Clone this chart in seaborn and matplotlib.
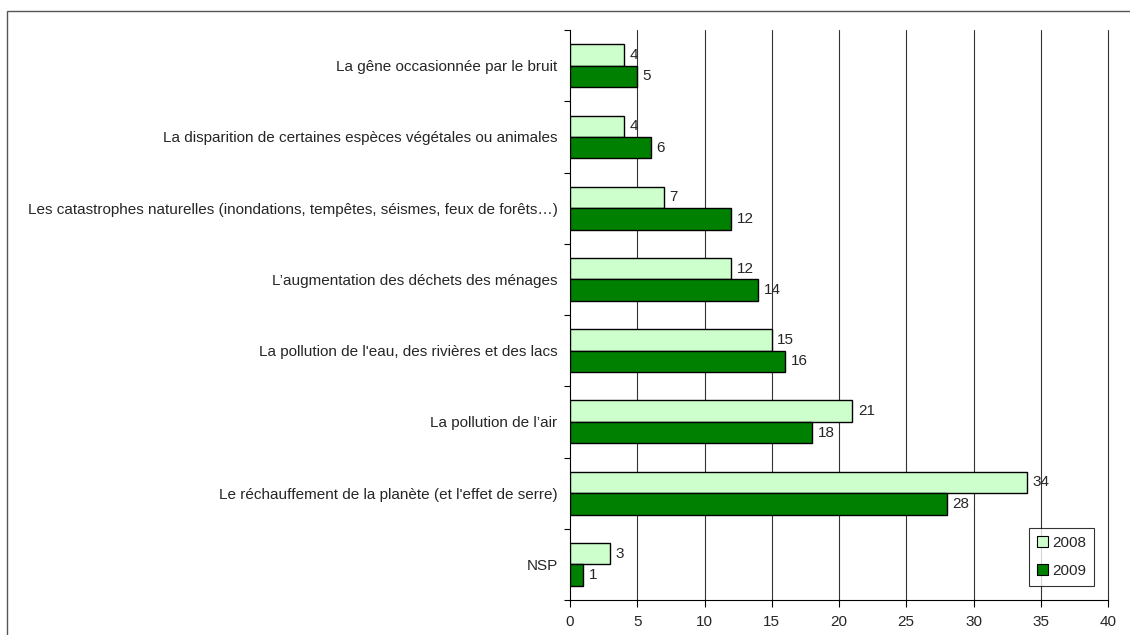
import matplotlib
matplotlib.use("Agg")
import matplotlib.pyplot as plt
import seaborn as sns
import pandas as pd
from matplotlib.patches import Rectangle

categories = [
    "La gêne occasionnée par le bruit",
    "La disparition de certaines espèces végétales ou animales",
    "Les catastrophes naturelles (inondations, tempêtes, séismes, feux de forêts…)",
    "L’augmentation des déchets des ménages",
    "La pollution de l'eau, des rivières et des lacs",
    "La pollution de l’air",
    "Le réchauffement de la planète (et l'effet de serre)",
    "NSP",
]
values_2008 = [4, 4, 7, 12, 15, 21, 34, 3]
values_2009 = [5, 6, 12, 14, 16, 18, 28, 1]
series = ["2008", "2009"]
colors = ["#CCFFCC", "#008000"]
xticks = [0, 5, 10, 15, 20, 25, 30, 35, 40]

df = pd.DataFrame({
    "cat": categories * 2,
    "val": values_2008 + values_2009,
    "year": [series[0]] * len(categories) + [series[1]] * len(categories),
})

sns.set_theme(style="white")
plt.rcParams["font.family"] = ["Liberation Sans", "DejaVu Sans"]

fig = plt.figure(figsize=(11.3, 6.35), dpi=100)
ax = fig.add_axes([570 / 1130, 1 - 600 / 635, 538 / 1130, 570 / 635])

sns.barplot(data=df, y="cat", x="val", hue="year", orient="h",
            palette=colors, width=0.6, edgecolor="black", linewidth=1.0,
            ax=ax, legend=True, saturation=1, zorder=3)

ax.set_xlim(0, 40)
ax.set_ylim(len(categories) - 0.5, -0.5)
ax.set_xticks(xticks)
ax.set_xticklabels([str(t) for t in xticks], fontsize=11)
ax.set_xlabel("")
ax.set_ylabel("")
ax.set_yticks(range(len(categories)))
ax.set_yticklabels(categories, fontsize=11)
ax.tick_params(axis="y", length=0, pad=9)
ax.set_yticks([i + 0.5 for i in range(-1, len(categories))], minor=True)
ax.tick_params(axis="y", which="minor", length=4, width=0.8, color="black", left=True)
ax.tick_params(axis="x", length=5, width=0.8, color="black", bottom=True, pad=6)

for t in xticks[1:]:
    ax.axvline(t, color="#333333", linewidth=0.8, zorder=0, clip_on=False)

for s in ["top", "right"]:
    ax.spines[s].set_visible(False)
for s in ["left", "bottom"]:
    ax.spines[s].set_color("black")
    ax.spines[s].set_linewidth(0.8)

for cont in ax.containers:
    ax.bar_label(cont, padding=4, fontsize=11)

leg = ax.legend(loc="lower right", bbox_to_anchor=(0.988, 0.012), fontsize=11,
                frameon=True, fancybox=False, edgecolor="black",
                handlelength=0.7, handleheight=0.7, handletextpad=0.3,
                borderpad=0.5, labelspacing=0.9)
leg.get_frame().set_linewidth(0.8)
leg.set_zorder(5)
for h in leg.legend_handles:
    h.set_edgecolor("black")
    h.set_linewidth(0.8)

fig.patches.append(Rectangle((7 / 1130, -0.01), 1.2, 1 - 11 / 635 + 0.01,
                             transform=fig.transFigure, fill=False,
                             edgecolor="#555555", linewidth=1.0))

fig.savefig("out.png", dpi=100)
